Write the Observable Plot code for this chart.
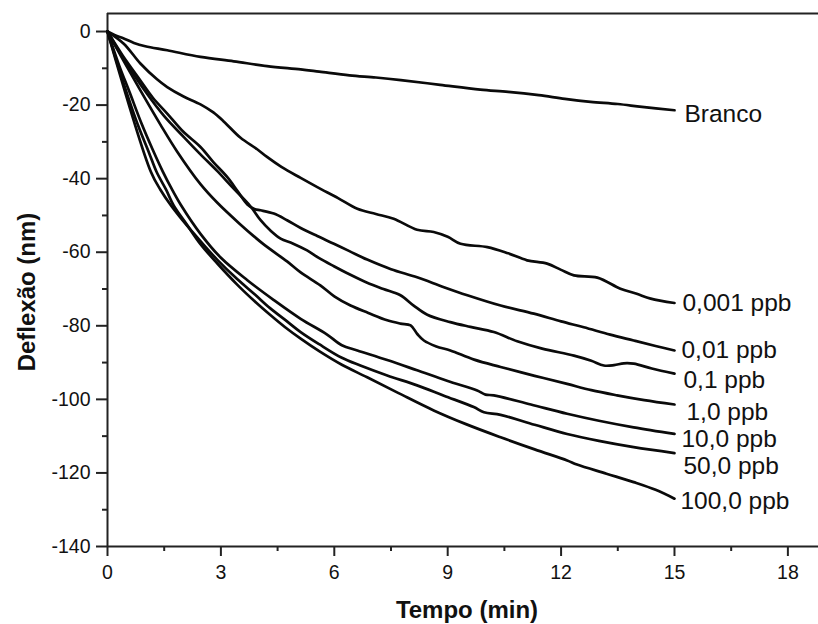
<!DOCTYPE html>
<html>
<head>
<meta charset="utf-8">
<script src="https://cdn.jsdelivr.net/npm/d3@7"></script>
<script src="https://cdn.jsdelivr.net/npm/@observablehq/plot@0.6"></script>
<style>
  html, body { margin: 0; padding: 0; background: #fff; }
</style>
</head>
<body>
<div id="chart"></div>
<script>
// ---- data (time in min, deflection in nm) ----
const seriesNames = ["Branco", "0,001 ppb", "0,01 ppb", "0,1 ppb", "1,0 ppb", "10,0 ppb", "50,0 ppb", "100,0 ppb"];

const branco = [[0,0],[0.2,-1.0],[0.43,-1.9],[0.7,-3.1],[1.0,-4.0],[1.58,-5.1],[2.46,-6.9],[3.34,-8.1],[4.22,-9.4],[5.11,-10.3],[5.6,-10.9],[6.4,-11.9],[7.1,-12.5],[7.76,-13.2],[8.8,-14.5],[9.86,-15.8],[10.6,-16.4],[11.41,-17.3],[12.1,-18.3],[12.78,-19.1],[13.5,-19.7],[14.14,-20.5],[15.0,-21.4]];

const ppb0001 = [[0,0],[0.43,-3.3],[0.87,-8.7],[1.31,-13.0],[1.58,-15.1],[2.0,-17.6],[2.46,-19.8],[2.8,-22.0],[3.08,-24.5],[3.52,-28.9],[3.96,-32.0],[4.22,-34.1],[4.6,-36.8],[5.11,-39.8],[5.55,-42.3],[6.1,-45.3],[6.61,-48.2],[7.1,-49.6],[7.57,-50.9],[8.19,-53.9],[8.63,-54.5],[9.0,-55.8],[9.34,-57.7],[10.05,-58.6],[10.6,-60.3],[11.10,-62.2],[11.63,-63.1],[12.0,-64.8],[12.34,-66.3],[12.96,-66.9],[13.57,-69.9],[14.0,-71.3],[14.37,-72.6],[15.0,-73.8]];

const ppb001 = [[0,0],[0.4,-6.5],[0.87,-13.3],[1.2,-18.0],[1.58,-22.3],[2.0,-27.2],[2.46,-31.4],[2.8,-35.5],[3.17,-39.6],[3.45,-43.5],[3.70,-47.0],[3.9,-48.3],[4.05,-48.6],[4.4,-49.5],[4.75,-51.3],[5.11,-53.4],[5.55,-55.6],[5.99,-57.7],[6.4,-59.7],[6.87,-62.0],[7.5,-64.6],[8.19,-66.8],[8.9,-69.5],[9.52,-71.7],[10.4,-74.5],[11.28,-76.7],[12.0,-78.8],[12.6,-80.4],[13.3,-82.4],[13.92,-84.0],[14.5,-85.5],[15.0,-86.7]];

const ppb01 = [[0,0],[0.4,-7.0],[1.05,-17.0],[1.5,-23.0],[2.02,-28.7],[2.46,-33.4],[2.90,-37.9],[3.3,-42.3],[3.78,-47.5],[4.05,-51.3],[4.31,-54.1],[4.58,-56.3],[4.9,-57.6],[5.28,-59.5],[5.6,-61.6],[5.99,-63.8],[6.4,-66.0],[6.87,-68.3],[7.3,-70.0],[7.75,-71.7],[8.1,-74.5],[8.46,-77.0],[9.07,-79.0],[9.6,-80.3],[10.22,-81.7],[10.84,-84.2],[11.5,-86.2],[12.34,-88.1],[12.8,-89.5],[13.13,-90.8],[13.4,-90.7],[13.66,-90.2],[13.92,-90.3],[14.4,-91.6],[15.0,-93.0]];

const ppb1 = [[0,0],[0.4,-7.5],[0.87,-16.0],[1.4,-25.3],[1.84,-32.6],[2.46,-41.5],[2.9,-46.5],[3.5,-52.3],[4.1,-57.6],[4.75,-62.5],[5.11,-65.5],[5.63,-69.0],[6.0,-72.0],[6.43,-74.5],[6.9,-76.5],[7.4,-78.5],[7.75,-79.4],[8.02,-79.9],[8.2,-82.3],[8.37,-84.0],[8.7,-85.6],[9.07,-86.7],[9.7,-89.2],[10.4,-91.2],[11.3,-93.6],[12.16,-95.8],[12.8,-97.5],[13.48,-98.9],[14.2,-100.2],[15.0,-101.4]];

const ppb10 = [[0,0],[0.3,-9.0],[0.58,-16.4],[0.9,-25.0],[1.2,-32.2],[1.46,-38.0],[1.7,-42.8],[1.95,-47.3],[2.46,-55.0],[3.0,-61.5],[3.7,-67.6],[4.4,-73.0],[5.11,-78.1],[5.8,-82.3],[6.2,-85.3],[6.61,-86.7],[7.4,-89.3],[8.19,-92.1],[9.0,-95.0],[9.78,-97.6],[10.0,-98.7],[10.22,-98.9],[11.2,-101.4],[12.16,-103.9],[13.0,-105.8],[13.92,-107.6],[15.0,-109.4]];

const ppb50 = [[0,0],[1.15,-38.2],[1.4,-43.0],[1.68,-47.3],[2.0,-51.5],[2.46,-57.0],[2.9,-62.0],[3.43,-67.3],[3.9,-71.5],[4.3,-75.2],[4.7,-78.4],[5.11,-81.7],[5.6,-85.0],[6.2,-88.7],[6.69,-90.8],[7.4,-93.5],[8.19,-96.2],[8.9,-99.0],[9.69,-102.1],[9.96,-103.5],[10.4,-104.2],[11.3,-106.9],[12.16,-109.4],[13.0,-111.3],[13.92,-113.0],[15.0,-114.6]];

const ppb100 = [[0,0],[0.3,-10.0],[0.5,-16.4],[0.8,-25.3],[1.1,-33.0],[1.3,-38.2],[1.55,-43.0],[1.75,-47.3],[2.1,-52.5],[2.46,-57.8],[2.9,-63.0],[3.43,-68.8],[3.9,-73.4],[4.3,-77.0],[4.7,-80.4],[5.11,-83.5],[5.6,-86.9],[6.2,-90.6],[6.87,-94.0],[7.7,-98.3],[8.63,-103.0],[9.5,-106.8],[10.4,-110.3],[11.3,-113.6],[12.16,-116.6],[12.42,-117.7],[13.2,-120.2],[13.92,-122.5],[14.5,-124.6],[15.0,-127.0]];

const seriesValues = [branco, ppb0001, ppb001, ppb01, ppb1, ppb10, ppb50, ppb100];

// ---- axis ticks ----
const xTicks = [0, 3, 6, 9, 12, 15, 18];
const xMinorTicks = [1.5, 4.5, 7.5, 10.5, 13.5, 16.5];
const yTicks = [0, -20, -40, -60, -80, -100, -120, -140];
const yMinorTicks = [-10, -30, -50, -70, -90, -110, -130];
const xDomain = [0, 18.81];
const yDomain = [-140, 4.9];

// ---- label nudges (pixels) ----
const labelDx = [10, 8, 7, 9, 12, 7, 9, 6];
const labelDy = [4, 0, 0, 7, 8, 5, 13, 2];

// ---- build tables ----
const rows = seriesNames.flatMap((name, i) => seriesValues[i].map(([x, y]) => ({series: name, x, y})));
const labels = seriesNames.map((name, i) => {
  const last = seriesValues[i][seriesValues[i].length - 1];
  return {name, x: last[0], y: last[1], dx: labelDx[i], dy: labelDy[i]};
});

const axisColor = "#222";
const font = "'Liberation Sans', Arial, Helvetica, sans-serif";

const labelMarks = labels.map(l => Plot.text([l], {
  x: "x", y: "y", text: "name", dx: l.dx, dy: l.dy,
  textAnchor: "start", fontSize: 24.5, fill: "#111"
}));

const chart = Plot.plot({
  width: 818,
  height: 624,
  marginTop: 13,
  marginLeft: 107,
  marginRight: 0,
  marginBottom: 78,
  x: {domain: xDomain},
  y: {domain: yDomain},
  style: {fontFamily: font, background: "#fff", color: "#111", overflow: "visible"},
  marks: [
    Plot.axisX({ticks: xTicks, tickSize: 10, tickPadding: 9, fontSize: 19.5, label: null, stroke: axisColor, strokeWidth: 2, tickFormat: d => String(d)}),
    Plot.axisX({ticks: xMinorTicks, tickSize: 5, text: null, label: null, stroke: axisColor, strokeWidth: 2}),
    Plot.axisY({ticks: yTicks, tickSize: 11, tickPadding: 6, fontSize: 19.5, label: null, stroke: axisColor, strokeWidth: 2, tickFormat: d => String(d)}),
    Plot.axisY({ticks: yMinorTicks, tickSize: 5, text: null, label: null, stroke: axisColor, strokeWidth: 2}),
    Plot.ruleX([xDomain[0]], {stroke: axisColor, strokeWidth: 2}),
    Plot.ruleY([yDomain[0]], {stroke: axisColor, strokeWidth: 2}),
    Plot.ruleY([yDomain[1]], {stroke: axisColor, strokeWidth: 2}),
    Plot.line(rows, {x: "x", y: "y", z: "series", stroke: "#0a0a0a", strokeWidth: 2.7, curve: "catmull-rom"}),
    ...labelMarks,
    Plot.text(["Tempo (min)"], {text: d => d, frameAnchor: "bottom", textAnchor: "middle", lineAnchor: "middle", dx: 4, dy: 64, fontSize: 24, fontWeight: "bold", fill: "#111"}),
    Plot.text(["Deflexão (nm)"], {text: d => d, frameAnchor: "left", textAnchor: "middle", lineAnchor: "middle", dx: -80, dy: 12, rotate: -90, fontSize: 24, fontWeight: "bold", fill: "#111"})
  ]
});

document.getElementById("chart").appendChild(chart);
</script>
</body>
</html>
